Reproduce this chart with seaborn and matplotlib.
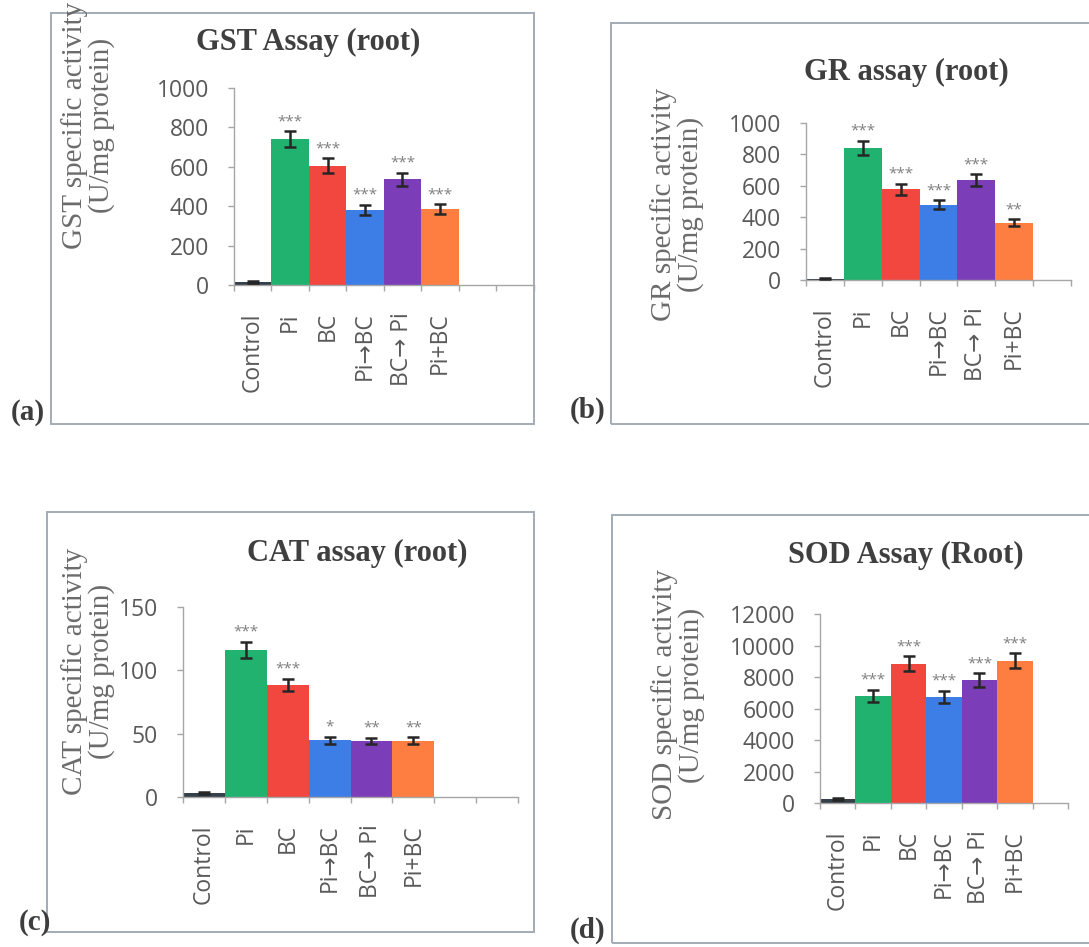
import numpy as np
import pandas as pd
import matplotlib
matplotlib.use("Agg")
import matplotlib.pyplot as plt
import seaborn as sns
from matplotlib.patches import Rectangle

# ---------------- data ----------------
categories = ["Control", "Pi", "BC", "Pi\u2192BC", "BC\u2192 Pi", "Pi+BC"]
bar_colors = ["#34404a", "#22b26f", "#f1473f", "#3c7de6", "#7b3db8", "#fd7e40"]

gst_mean = [15, 741, 606, 382, 537, 384]
gst_err = [6, 39, 37, 25, 34, 26]
gst_sig = ["", "***", "***", "***", "***", "***"]
gst_ticks = [0, 200, 400, 600, 800, 1000]

gr_mean = [8, 841, 578, 479, 636, 366]
gr_err = [4, 45, 35, 28, 38, 22]
gr_sig = ["", "***", "***", "***", "***", "**"]
gr_ticks = [0, 200, 400, 600, 800, 1000]

cat_mean = [3.5, 116, 88.5, 44.7, 44.2, 44.5]
cat_err = [0.8, 6.5, 5.0, 2.8, 2.5, 2.8]
cat_sig = ["", "***", "***", "*", "**", "**"]
cat_ticks = [0, 50, 100, 150]

sod_mean = [280, 6805, 8840, 6722, 7803, 9030]
sod_err = [60, 370, 490, 390, 440, 480]
sod_sig = ["", "***", "***", "***", "***", "***"]
sod_ticks = [0, 2000, 4000, 6000, 8000, 10000, 12000]

titles = ["GST Assay (root)", "GR assay (root)", "CAT assay (root)", "SOD Assay (Root)"]
ylabels = ["GST specific activity\n(U/mg protein)",
           "GR specific activity\n(U/mg protein)",
           "CAT specific activity\n(U/mg protein)",
           "SOD specific activity\n(U/mg protein)"]
panel_tags = ["(a)", "(b)", "(c)", "(d)"]

# ---------------- style ----------------
sns.set_theme(style="white")
plt.rcParams['font.family'] = ['Open Sans', 'DejaVu Sans']
SERIF = ['Liberation Serif', 'DejaVu Serif']
palette = dict(zip(categories, bar_colors))

W, H = 1089, 947
fig = plt.figure(figsize=(W / 100, H / 100), dpi=100)
fig.patch.set_facecolor('white')


def fx(x):
    return x / W


def fy(y):
    return 1 - y / H


def px_axes(l, r, t, b):
    return fig.add_axes([fx(l), fy(b), (r - l) / W, (b - t) / H])


def box(l, t, r, b):
    fig.add_artist(Rectangle((fx(l), fy(b)), (r - l) / W, (b - t) / H,
                             transform=fig.transFigure, fill=False,
                             edgecolor='#a3abb4', linewidth=1.4))


AX_GRAY = '#a6a6a6'
TICK_TXT = '#595959'


def draw(ax, means, errs, sigs, yticks, nslots):
    df = pd.DataFrame({"group": categories, "value": means})
    sns.barplot(data=df, x="group", y="value", hue="group", palette=palette,
                order=categories, hue_order=categories, width=1.0, dodge=False,
                errorbar=None, legend=False, ax=ax, saturation=1, linewidth=0)
    xs = np.arange(len(categories))
    ax.errorbar(xs, means, yerr=errs, fmt='none', ecolor='#262626',
                elinewidth=1.8, capsize=4.3, capthick=1.8, zorder=3)
    for x, m, e, s in zip(xs, means, errs, sigs):
        if s:
            ax.annotate(s, xy=(x, m + e), xytext=(0, 1.5), textcoords='offset points',
                        ha='center', va='bottom', fontsize=11, color='#7f7f7f',
                        annotation_clip=False)
    ax.set_xlim(-0.5, nslots - 0.5)
    ax.set_ylim(0, yticks[-1])
    ax.set_facecolor('none')
    for sp in ['top', 'right']:
        ax.spines[sp].set_visible(False)
    for sp in ['left', 'bottom']:
        ax.spines[sp].set_color(AX_GRAY)
        ax.spines[sp].set_linewidth(1.0)
    ax.set_xlabel("")
    ax.set_ylabel("")
    ax.set_yticks(yticks)
    ax.set_yticklabels([str(t) for t in yticks])
    ax.set_xticks(xs)
    ax.set_xticklabels(categories, rotation=90)
    ax.set_xticks(np.arange(-0.5, nslots), minor=True)
    ax.tick_params(axis='y', which='major', direction='out', length=4, width=1,
                   color=AX_GRAY, pad=14, labelsize=16.5, labelcolor=TICK_TXT, left=True)
    ax.tick_params(axis='x', which='major', length=0, pad=19.5,
                   labelsize=16.5, labelcolor=TICK_TXT, bottom=True)
    ax.tick_params(axis='x', which='minor', direction='out', length=4, width=1,
                   color=AX_GRAY, bottom=True)
    ax.grid(False)


# panel layouts (pixel positions)
layouts = [
    dict(ax=(234, 533.5, 88, 285), nslots=8, box=(51, 13, 534, 424),
         title=(308, 42), ylab=(88, 125), tag=(28, 412)),
    dict(ax=(806, 1071, 123, 280), nslots=7, box=(611, 23, 1100, 424),
         title=(906, 72), ylab=(677, 204), tag=(588, 410)),
    dict(ax=(183, 518, 607, 797), nslots=8, box=(47, 512, 534, 932),
         title=(357, 553), ylab=(88, 671), tag=(35, 922)),
    dict(ax=(820, 1068, 614, 803), nslots=7, box=(612, 515, 1100, 943),
         title=(906, 555), ylab=(678, 695), tag=(588, 930)),
]
datasets = [
    (gst_mean, gst_err, gst_sig, gst_ticks),
    (gr_mean, gr_err, gr_sig, gr_ticks),
    (cat_mean, cat_err, cat_sig, cat_ticks),
    (sod_mean, sod_err, sod_sig, sod_ticks),
]

for lay, (m, e, s, t), title, ylab, tag in zip(layouts, datasets, titles, ylabels, panel_tags):
    box(*lay['box'])
    ax = px_axes(*lay['ax'])
    draw(ax, m, e, s, t, lay['nslots'])
    fig.text(fx(lay['title'][0]), fy(lay['title'][1]), title, family=SERIF,
             fontsize=22, fontweight='bold', color='#3f3f3f', ha='center', va='center')
    fig.text(fx(lay['ylab'][0]), fy(lay['ylab'][1]), ylab, family=SERIF,
             fontsize=21, color='#6b6b6b', ha='center', va='center', rotation=90,
             multialignment='center', linespacing=1.0)
    fig.text(fx(lay['tag'][0]), fy(lay['tag'][1]), tag, family=SERIF,
             fontsize=21, fontweight='bold', color='#3d3d3d', ha='center', va='center')

fig.savefig("out.png", dpi=100, facecolor='white')
